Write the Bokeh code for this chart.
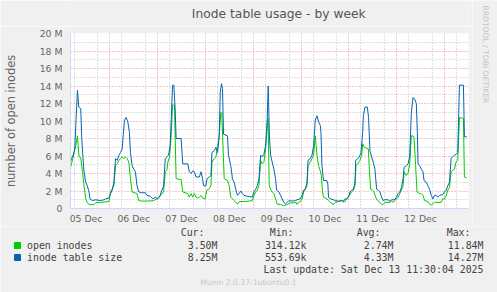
from bokeh.plotting import figure
from bokeh.models import Range1d, FixedTicker
from bokeh.layouts import column, row
from bokeh.embed import file_html
from bokeh.resources import INLINE
from bokeh.core.properties import value

# ---------------- data (hours since 05 Dec 00:00, values in millions) ----------------
table_hours = [4.2, 4.7, 5.7, 6.35, 6.85, 7.7, 8.35, 9.35, 9.85, 10.5, 11.0, 11.85, 12.65, 13.5, 14.0,
               15.2, 16.8, 19.3, 21.0, 21.8, 23.5, 24.3, 25.15, 26.0, 26.8, 27.65, 28.5, 29.3, 30.15,
               30.65, 31.3, 32.15, 33.0, 33.8, 34.3, 35.15, 36.0, 36.8, 37.6, 38.5, 39.6, 41.8, 42.6,
               44.3, 45.6, 46.8, 47.95, 48.95, 49.8, 50.95, 51.8, 52.6, 53.45, 54.3, 54.8, 55.45, 56.1,
               56.75, 57.25, 59.75, 60.6, 63.1, 63.9, 64.75, 65.6, 66.4, 67.25, 68.9, 69.75, 70.55,
               71.05, 72.25, 72.75, 73.9, 74.75, 75.25, 76.4, 77.25, 78.05, 78.9, 79.4, 80.05, 80.55,
               81.05, 83.05, 83.55, 84.7, 85.55, 86.4, 87.2, 88.05, 88.9, 89.7, 90.55, 91.35, 93.05,
               95.55, 96.35, 97.2, 98.05, 98.85, 99.7, 100.5, 101.35, 102.2, 103.0, 103.5, 104.1,
               104.7, 105.5, 106.35, 107.2, 107.7, 108.85, 109.7, 110.5, 111.35, 112.15, 113.0, 113.85,
               115.5, 117.15, 118.0, 119.65, 120.5, 121.3, 122.15, 123.0, 123.5, 124.65, 125.5, 126.3,
               127.15, 128.0, 128.8, 129.65, 130.0, 130.5, 131.3, 132.95, 133.45, 133.8, 134.65, 136.3,
               137.15, 138.8, 140.45, 141.3, 142.1, 142.95, 143.8, 144.6, 145.45, 146.3, 147.1, 147.45,
               148.45, 149.3, 150.1, 150.95, 151.3, 152.1, 153.3, 153.9, 154.6, 155.45, 156.25, 157.1,
               157.95, 158.75, 159.6, 160.45, 161.25, 162.1, 163.75, 164.6, 165.4, 167.1, 167.9, 168.75,
               169.6, 170.4, 171.25, 171.75, 172.9, 173.75, 174.55, 175.4, 176.25, 177.05, 177.9, 178.4,
               178.75, 179.55, 180.4, 181.25, 181.75, 182.9, 183.7, 184.55, 185.4, 186.2, 187.05, 187.9,
               188.7, 189.55, 191.2, 192.05, 192.9, 193.7, 194.55, 195.35, 196.2, 197.05, 197.85, 198.7,
               199.2, 199.55, 201.55, 202.05, 203.2]
table_size = [5.3, 5.7, 6.2, 6.8, 9.5, 13.5, 11.6, 11.4, 8.0, 5.7, 4.2, 3.0, 2.6, 1.9, 1.1,
              0.9, 1.0, 0.9, 1.0, 1.1, 1.2, 1.7, 2.1, 3.0, 5.7, 5.5, 6.1, 6.4, 6.8,
              8.3, 10.1, 10.4, 9.9, 8.7, 6.4, 4.9, 4.5, 4.2, 2.6, 1.9, 1.8, 1.8, 1.5,
              1.4, 1.1, 1.3, 1.1, 1.3, 1.9, 2.6, 5.7, 5.9, 6.1, 7.2, 10.2, 14.1, 14.1,
              11.4, 8.0, 8.0, 5.1, 5.1, 4.2, 4.0, 4.3, 4.2, 3.6, 3.6, 4.2, 3.4,
              2.6, 2.6, 3.4, 3.6, 3.8, 6.4, 6.6, 7.0, 6.4, 8.3, 13.3, 14.27, 13.7,
              8.5, 8.3, 6.1, 4.9, 3.4, 3.0, 2.2, 1.5, 1.7, 2.0, 1.7, 1.5, 1.4,
              1.3, 1.9, 2.2, 2.6, 3.4, 6.1, 5.9, 6.2, 7.2, 10.2, 14.0, 8.3,
              6.1, 5.3, 4.5, 3.4, 2.1, 1.9, 1.5, 1.1, 0.7, 0.55, 0.7, 0.9,
              0.85, 0.9, 1.0, 1.1, 1.5, 2.1, 2.2, 3.0, 5.5, 5.7, 6.1, 7.2,
              10.1, 10.6, 9.9, 9.5, 8.7, 4.9, 3.2, 3.2, 2.8, 1.3, 1.1, 1.0,
              0.9, 0.85, 0.9, 0.85, 1.1, 1.1, 1.3, 1.9, 2.1, 2.2, 3.0, 5.5,
              5.7, 5.9, 6.4, 8.7, 10.6, 11.6, 11.6, 10.4, 6.6, 5.9, 5.3, 4.5,
              2.2, 2.1, 1.9, 1.3, 0.9, 1.0, 1.0, 0.8, 1.0, 1.0, 1.3, 1.7,
              1.9, 2.4, 3.4, 4.7, 4.9, 5.1, 5.9, 11.0, 12.7, 12.5, 12.0, 8.7,
              5.1, 4.9, 4.5, 4.2, 3.2, 3.0, 2.6, 2.2, 1.5, 1.1, 1.5, 1.5,
              1.3, 1.5, 1.6, 1.9, 2.1, 2.6, 3.0, 5.7, 5.9, 6.1, 6.2, 6.4,
              11.0, 14.1, 14.1, 8.2, 8.2]

open_hours = [4.2, 5.2, 6.0, 6.85, 7.7, 8.5, 9.35, 10.2, 11.0, 11.85, 12.65, 13.5, 16.0, 16.8, 19.3,
              23.5, 24.3, 26.0, 26.8, 27.65, 28.5, 29.3, 30.15, 31.0, 31.8, 32.65, 33.5, 34.3, 35.15,
              37.6, 38.5, 40.1, 42.6, 45.95, 47.6, 49.3, 50.95, 51.8, 52.6, 53.1, 53.95, 54.75, 55.45,
              56.45, 56.75, 57.25, 59.75, 60.6, 63.1, 63.9, 64.75, 65.6, 66.4, 67.25, 68.1, 68.9, 69.75,
              70.55, 71.75, 72.75, 73.9, 74.75, 75.25, 76.4, 77.25, 78.05, 78.9, 79.7, 80.2, 80.7, 81.4,
              83.05, 83.9, 84.7, 86.4, 88.05, 88.9, 92.2, 95.55, 96.35, 97.2, 98.05, 98.85, 99.7, 100.5,
              101.35, 102.2, 102.9, 103.45, 104.0, 104.7, 105.5, 106.35, 107.2, 108.0, 109.7, 111.35,
              113.0, 114.65, 116.35, 117.65, 118.0, 118.85, 119.65, 120.5, 121.3, 122.15, 123.0, 123.5,
              124.65, 125.5, 126.3, 127.15, 128.0, 128.8, 129.65, 130.15, 130.8, 131.3, 132.95, 133.8,
              134.65, 136.3, 137.15, 138.8, 140.45, 141.6, 142.95, 144.3, 145.45, 146.3, 147.1, 147.6,
              148.45, 149.6, 150.45, 150.95, 151.8, 152.95, 153.8, 154.3, 154.95, 155.95, 156.6, 157.45,
              158.45, 159.6, 160.45, 161.25, 162.1, 164.6, 165.4, 166.25, 167.1, 167.9, 168.75, 169.6,
              170.4, 171.25, 171.75, 172.6, 173.75, 174.55, 175.4, 176.25, 176.75, 177.55, 178.25,
              179.55, 180.4, 181.25, 182.05, 183.7, 184.55, 185.4, 187.05, 190.4, 191.2, 192.05, 192.9,
              193.7, 194.55, 195.35, 196.2, 197.05, 197.85, 198.7, 199.2, 199.55, 201.55, 202.05, 203.2]
open_inodes = [4.7, 5.5, 6.4, 7.2, 8.3, 5.9, 5.8, 4.2, 2.6, 1.1, 0.7, 0.45, 0.45, 0.65, 0.7,
               0.8, 1.9, 2.6, 4.9, 5.1, 5.5, 5.7, 5.9, 5.7, 5.9, 5.7, 5.3, 3.4, 1.9,
               1.7, 0.9, 0.85, 0.85, 0.9, 1.1, 1.5, 1.9, 4.2, 4.4, 5.3, 5.9, 8.3, 11.84,
               11.8, 8.3, 3.4, 3.3, 1.9, 1.7, 1.3, 1.7, 1.3, 1.7, 1.3, 1.2, 1.3, 1.5,
               1.2, 1.1, 2.1, 2.25, 2.6, 5.3, 5.7, 5.9, 7.0, 8.3, 11.0, 10.9, 7.6, 3.4,
               3.2, 2.6, 1.3, 0.9, 0.5, 0.8, 0.8, 0.9, 1.5, 1.9, 2.1, 2.6, 5.5, 5.1,
               5.3, 6.8, 9.0, 10.3, 2.6, 2.2, 1.9, 1.7, 1.1, 0.5, 0.46, 0.31,
               0.46, 0.65, 0.65, 0.7, 0.46, 0.7, 0.8, 1.1, 1.9, 2.2, 2.6, 4.9,
               5.3, 5.7, 6.1, 8.3, 6.1, 4.9, 4.3, 3.8, 1.9, 1.3, 1.1, 0.9,
               0.7, 0.45, 0.7, 0.8, 0.9, 0.7, 1.1, 1.5, 1.9, 2.1, 2.6, 4.9,
               5.1, 5.5, 6.1, 7.4, 7.0, 6.9, 6.8, 4.5, 2.2, 2.1, 1.9, 1.3,
               0.9, 0.7, 0.46, 0.46, 0.7, 0.7, 0.9, 0.7, 0.9, 1.1, 1.3, 1.7,
               2.1, 2.6, 4.2, 3.8, 4.0, 5.1, 8.3, 8.3, 8.1, 4.9, 1.9,
               1.7, 1.7, 1.5, 0.9, 0.8, 0.5, 0.4, 0.7, 0.7, 1.1, 1.1, 1.5,
               2.1, 2.4, 4.2, 4.4, 4.5, 5.3, 5.5, 8.3, 10.4, 10.3, 3.6, 3.5]

day_labels = ["05 Dec", "06 Dec", "07 Dec", "08 Dec", "09 Dec", "10 Dec", "11 Dec", "12 Dec"]
label_hours = [12, 36, 60, 84, 108, 132, 156, 180]
midnight_hours = [24, 48, 72, 96, 120, 144, 168, 192]
quarter_hours = [6, 18, 30, 42, 54, 66, 78, 90, 102, 114, 126, 138, 150, 162, 174, 186, 198]
y_ticks = [0, 2, 4, 6, 8, 10, 12, 14, 16, 18, 20]
y_minor = [1, 3, 5, 7, 9, 11, 13, 15, 17, 19]
y_tick_labels = ["0", "2 M", "4 M", "6 M", "8 M", "10 M", "12 M", "14 M", "16 M", "18 M", "20 M"]
x_start, x_end = 4.2, 204.1

series_names = ["open inodes", "inode table size"]
series_colors = ["#00CC00", "#0066B3"]
stat_headers = ["Cur:", "Min:", "Avg:", "Max:"]
stat_cur = ["3.50M", "8.25M"]
stat_min = ["314.12k", "553.69k"]
stat_avg = ["2.74M", "4.33M"]
stat_max = ["11.84M", "14.27M"]
last_update = "Last update: Sat Dec 13 11:30:04 2025"
version_text = "Munin 2.0.37-1ubuntu0.1"
title_text = "Inode table usage - by week"
side_text = "RRDTOOL / TOBI OETIKER"

BG = "#F0F0F0"
FONT = "#666666"
AXIS = "#CFD6F8"


def blank(w, h):
    f = figure(width=w, height=h, x_range=Range1d(0, w), y_range=Range1d(h, 0),
               output_backend="svg", toolbar_location=None, x_axis_type=None, y_axis_type=None,
               min_border_left=0, min_border_right=0, min_border_top=0, min_border_bottom=0)
    f.background_fill_color = BG
    f.border_fill_color = BG
    f.outline_line_color = None
    f.grid.visible = False
    return f


# ---------------- title strip ----------------
t = blank(472, 26)
t.text(x=[247], y=[13.5], text=[title_text], text_font=value("DejaVu Sans"),
       text_font_size="12.3px", text_color="#555555", text_align="center", text_baseline="middle")

# ---------------- main chart ----------------
p = figure(width=472, height=200, x_range=Range1d(x_start, x_end), y_range=Range1d(0, 20),
           output_backend="svg", toolbar_location=None,
           min_border_left=67, min_border_right=4, min_border_top=7, min_border_bottom=18)
p.background_fill_color = "white"
p.border_fill_color = BG
p.outline_line_color = None

xt = FixedTicker(ticks=label_hours)
p.xaxis.ticker = xt
p.xaxis.major_label_overrides = {h: l for h, l in zip(label_hours, day_labels)}
p.xaxis.major_label_text_font = "DejaVu Sans"
p.xaxis.major_label_text_font_size = "9.3px"
p.xaxis.major_label_text_color = FONT
p.xaxis.major_label_standoff = 4
p.xaxis.major_tick_out = 0
p.xaxis.major_tick_in = 0
p.xaxis.minor_tick_out = 0
p.xaxis.minor_tick_in = 0
p.xaxis.axis_line_color = AXIS

yt = FixedTicker(ticks=y_ticks, minor_ticks=y_minor)
p.yaxis.ticker = yt
p.yaxis.major_label_overrides = {tk: l for tk, l in zip(y_ticks, y_tick_labels)}
p.yaxis.major_label_text_font = "DejaVu Sans"
p.yaxis.major_label_text_font_size = "9.3px"
p.yaxis.major_label_text_color = FONT
p.yaxis.major_label_standoff = 8
p.yaxis.major_tick_out = 0
p.yaxis.major_tick_in = 0
p.yaxis.minor_tick_out = 0
p.yaxis.minor_tick_in = 0
p.yaxis.axis_line_color = AXIS
p.yaxis.axis_label = "number of open inodes"
p.yaxis.axis_label_text_font = "DejaVu Sans"
p.yaxis.axis_label_text_font_size = "11.4px"
p.yaxis.axis_label_text_font_style = "normal"
p.yaxis.axis_label_text_color = FONT
p.yaxis.axis_label_standoff = 19

p.xgrid.ticker = FixedTicker(ticks=midnight_hours, minor_ticks=quarter_hours)
p.ygrid.ticker = yt
for g in (p.xgrid, p.ygrid):
    g.grid_line_color = "#F08A8A"
    g.grid_line_dash = "1 2"
    g.grid_line_width = 1
    g.minor_grid_line_color = "#BDBDBD"
    g.minor_grid_line_dash = "1 2"
    g.minor_grid_line_width = 1

p.line(open_hours, open_inodes, line_color=series_colors[0], line_width=1)
p.line(table_hours, table_size, line_color=series_colors[1], line_width=1)

# ---------------- side strip (rrdtool credit) ----------------
s = blank(25, 226)
s.text(x=[13], y=[5], text=[side_text], angle=-1.5708, text_font=value("DejaVu Sans"),
       text_font_size="7.6px", text_color="#C4C4C4", text_align="left", text_baseline="middle")

# ---------------- legend block ----------------
q = blank(497, 66)
mono = value("DejaVu Sans Mono")
row_y = [19, 31]
col_right = [217, 306, 393, 483]

q.text(x=[c - 13 for c in col_right], y=[6] * 4, text=stat_headers, text_font=mono,
       text_font_size="9.9px", text_color="#444444", text_align="right", text_baseline="middle")
q.scatter(x=[17, 17], y=row_y, marker="square", size=6, fill_color=series_colors,
          line_color=series_colors)
q.text(x=[26.5, 26.5], y=row_y, text=series_names, text_font=mono, text_font_size="9.9px",
       text_color="#444444", text_align="left", text_baseline="middle")
for cx, vals in zip(col_right, [stat_cur, stat_min, stat_avg, stat_max]):
    q.text(x=[cx, cx], y=row_y, text=vals, text_font=mono, text_font_size="9.9px",
           text_color="#444444", text_align="right", text_baseline="middle")
q.text(x=[483], y=[42.5], text=[last_update], text_font=mono, text_font_size="9.9px",
       text_color="#444444", text_align="right", text_baseline="middle")
q.text(x=[248], y=[55.5], text=[version_text], text_font=value("DejaVu Sans"),
       text_font_size="7.6px", text_color="#C8C8C8", text_align="center", text_baseline="middle")

layout = column(row(column(t, p, spacing=0), s, spacing=0), q, spacing=0)
open("out.html", "w").write(file_html(layout, INLINE))
